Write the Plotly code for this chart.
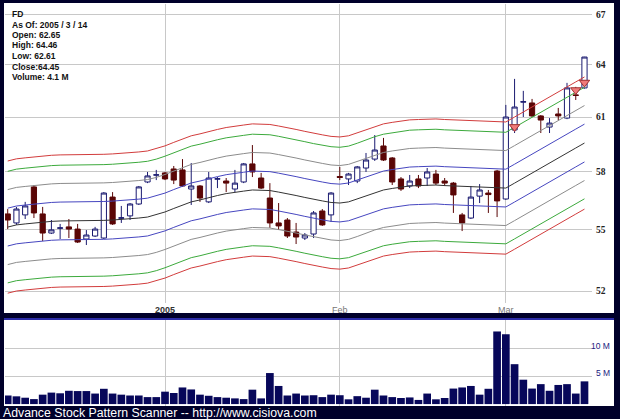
import math
import plotly.graph_objects as go

# ---------------- data ----------------
dates = [
    "2004-12-07", "2004-12-08", "2004-12-09", "2004-12-10", "2004-12-13", "2004-12-14",
    "2004-12-15", "2004-12-16", "2004-12-17", "2004-12-20", "2004-12-21", "2004-12-22",
    "2004-12-23", "2004-12-27", "2004-12-28", "2004-12-29", "2004-12-30", "2004-12-31",
    "2005-01-03", "2005-01-04", "2005-01-05", "2005-01-06", "2005-01-07", "2005-01-10",
    "2005-01-11", "2005-01-12", "2005-01-13", "2005-01-14", "2005-01-18", "2005-01-19",
    "2005-01-20", "2005-01-21", "2005-01-24", "2005-01-25", "2005-01-26", "2005-01-27",
    "2005-01-28", "2005-01-31", "2005-02-01", "2005-02-02", "2005-02-03", "2005-02-04",
    "2005-02-07", "2005-02-08", "2005-02-09", "2005-02-10", "2005-02-11", "2005-02-14",
    "2005-02-15", "2005-02-16", "2005-02-17", "2005-02-18", "2005-02-22", "2005-02-23",
    "2005-02-24", "2005-02-25", "2005-02-28", "2005-03-01", "2005-03-02", "2005-03-03",
    "2005-03-04", "2005-03-07", "2005-03-08", "2005-03-09", "2005-03-10", "2005-03-11",
    "2005-03-14",
]

open_ = [
    55.81, 55.35, 55.76, 57.21, 55.81, 54.84, 55.08, 55.15, 55.04, 54.54, 54.69, 54.59,
    56.68, 55.59, 55.71, 56.32, 57.47, 57.83,
    57.95, 58.16, 58.11, 57.10, 57.26, 56.43, 57.62, 57.52, 57.10, 57.47, 58.43, 57.68,
    56.63, 55.35, 55.50, 54.89, 54.59, 54.79, 55.96, 55.76,
    57.76, 57.63, 57.52, 58.21, 58.69, 59.40, 58.75, 57.63, 57.26, 57.63, 57.68, 57.89,
    57.52, 57.41, 55.76, 55.60, 56.73, 56.89, 58.05,
    56.58, 60.28, 61.84, 61.79, 61.06, 60.44, 61.17, 60.94, 62.25, 62.65,
]
high = [
    56.06, 56.17, 56.43, 57.31, 56.17, 55.50, 55.30, 55.55, 55.30, 54.99, 55.15, 56.94,
    56.94, 56.22, 56.37, 57.26, 58.00, 58.11,
    58.00, 58.32, 58.69, 58.48, 57.31, 58.00, 57.73, 57.68, 58.11, 58.48, 59.45, 57.95,
    57.41, 56.37, 55.60, 55.35, 54.84, 55.96, 56.06, 56.94,
    58.27, 57.95, 58.32, 59.02, 60.00, 59.84, 58.80, 57.73, 57.84, 57.84, 58.21, 58.11,
    57.68, 57.47, 55.86, 57.26, 57.36, 57.05, 58.11,
    61.68, 63.17, 62.48, 62.02, 61.11, 60.94, 61.51, 62.94, 62.71, 64.46,
]
low = [
    55.04, 55.25, 55.55, 55.60, 54.44, 54.79, 54.54, 54.59, 54.34, 54.24, 54.64, 54.54,
    55.25, 55.35, 55.50, 56.27, 57.41, 57.57,
    57.57, 57.36, 57.21, 56.27, 56.43, 56.37, 57.15, 56.94, 56.94, 57.41, 57.73, 57.10,
    55.10, 55.00, 54.59, 54.29, 54.49, 54.59, 55.20, 55.40,
    57.57, 57.31, 57.41, 58.00, 58.59, 58.59, 57.31, 57.00, 57.15, 57.15, 57.26, 57.31,
    57.26, 55.86, 54.94, 55.55, 56.37, 55.86, 55.65,
    56.53, 60.11, 61.00, 61.00, 60.11, 60.11, 60.83, 60.88, 61.96, 62.61,
]
close = [
    55.50, 56.06, 56.22, 55.86, 54.84, 55.00, 55.10, 55.04, 54.39, 54.74, 55.04, 56.89,
    55.30, 55.61, 56.32, 57.21, 57.79, 57.85,
    57.63, 57.57, 57.26, 57.26, 56.63, 57.68, 57.64, 57.41, 57.41, 58.43, 58.00, 57.15,
    55.35, 55.20, 54.69, 54.64, 54.74, 55.86, 55.25, 56.89,
    57.71, 57.89, 58.27, 58.64, 59.18, 58.64, 57.47, 57.10, 57.52, 57.26, 58.00, 57.41,
    57.41, 56.79, 55.35, 56.68, 57.05, 56.81, 56.48,
    61.00, 61.56, 61.86, 61.06, 60.83, 60.66, 61.06, 62.65, 62.22, 64.45,
]
volume_m = [
    1.55, 1.40, 1.15, 0.90, 1.70, 2.07, 1.95, 2.40, 2.35, 2.35, 1.90, 2.76,
    1.90, 1.70, 1.55, 1.55, 1.26, 1.26,
    2.24, 2.00, 3.00, 2.64, 1.70, 1.50, 1.26, 1.15, 1.03, 0.90, 2.60, 1.03,
    5.60, 3.27, 1.55, 1.90, 1.55, 1.60, 1.26, 1.70,
    1.60, 0.86, 1.43, 1.15, 2.60, 1.55, 1.26, 1.10, 1.20, 0.75, 1.90, 0.86,
    1.10, 2.80, 3.00, 3.27, 1.70, 2.76, 13.10,
    12.60, 7.20, 4.40, 2.80, 3.60, 2.40, 3.45, 3.60, 1.90, 4.10,
]
# centre line of the envelope bands
band_mid = [
    55.14, 55.25, 55.30, 55.35, 55.40, 55.43, 55.45, 55.45, 55.45, 55.45, 55.45, 55.48,
    55.50, 55.53, 55.55, 55.60, 55.65, 55.76,
    55.91, 56.09, 56.27, 56.43, 56.53, 56.66, 56.76, 56.86, 56.94, 56.99, 57.05, 57.05,
    57.02, 56.94, 56.86, 56.76, 56.66, 56.56, 56.48, 56.40,
    56.37, 56.43, 56.58, 56.76, 56.92, 57.05, 57.13, 57.21, 57.26, 57.28, 57.31, 57.31,
    57.28, 57.26, 57.23, 57.21, 57.21, 57.18, 57.15,
    57.15, 57.41, 57.68, 57.95, 58.21, 58.48, 58.75, 59.02, 59.29, 59.56,
]
band_pcts = [1.75, 3.5, 5.25, 6.25]
band_colors = ["#4646c0", "#8c8c8c", "#3caa3c", "#d23c3c"]

signal_dates = ["2005-03-02", "2005-03-11", "2005-03-14"]
signal_values = [60.45, 62.53, 62.96]

price_ticks = [52, 55, 58, 61, 64, 67]
vol_ticks = [5, 10]
vol_tick_labels = ["5 M", "10 M"]
month_ticks = ["2005-01-03", "2005-02-01", "2005-03-01"]
month_labels = ["<b><span style='color:#333'>2005</span></b>", "Feb", "Mar"]

header_lines = ["FD", "As Of: 2005 / 3 / 14", "Open: 62.65", "High: 64.46",
                "Low: 62.61", "Close:64.45", "Volume: 4.1 M"]
footer = "Advance Stock Pattern Scanner -- http://www.cisiova.com"

# ---------------- layout helpers ----------------
W, H = 620, 419
BG = "#00002a"
GRID = "#c8c8c8"


def fx(p):
    return p / W


def fy(p):
    return 1 - p / H


fig = go.Figure()

# envelope bands
for pct, col in zip(band_pcts[::-1], band_colors[::-1]):
    up = [m * (1 + pct / 100) for m in band_mid]
    dn = [m / (1 + pct / 100) for m in band_mid]
    for series in (up, dn):
        fig.add_trace(go.Scatter(x=dates, y=series, mode="lines",
                                 line=dict(color=col, width=1),
                                 hoverinfo="skip", showlegend=False,
                                 xaxis="x", yaxis="y"))
fig.add_trace(go.Scatter(x=dates, y=band_mid, mode="lines",
                         line=dict(color="#333333", width=1),
                         hoverinfo="skip", showlegend=False, xaxis="x", yaxis="y"))

# candles
fig.add_trace(go.Candlestick(
    x=dates, open=open_, high=high, low=low, close=close,
    increasing=dict(fillcolor="#ffffff", line=dict(color="#1a1a70", width=1)),
    decreasing=dict(fillcolor="#5a0606", line=dict(color="#5a0606", width=1)),
    whiskerwidth=0, showlegend=False, xaxis="x", yaxis="y"))

# signal markers
fig.add_trace(go.Scatter(
    x=signal_dates, y=signal_values, mode="markers",
    marker=dict(symbol="triangle-down", size=9, color="#f07a7a",
                line=dict(color="#a03030", width=1)),
    showlegend=False, xaxis="x", yaxis="y"))

# volume
fig.add_trace(go.Bar(x=dates, y=volume_m, marker=dict(color="#07075a", line=dict(width=0)),
                     showlegend=False, xaxis="x2", yaxis="y2"))

x_range = [-0.31, len(dates) - 1 + 0.86]
y_lo = 52 * math.exp(-12 / 1090)
y_hi = 52 * math.exp(287 / 1090)

axis_common = dict(type="category", categoryorder="array", categoryarray=dates,
                   range=x_range, domain=[fx(5), fx(592)], showgrid=True,
                   gridcolor=GRID, gridwidth=1, zeroline=False, showline=False,
                   tickvals=month_ticks, ticks="", fixedrange=True)

fig.update_layout(
    width=W, height=H, margin=dict(l=0, r=0, t=0, b=0),
    paper_bgcolor=BG, plot_bgcolor="rgba(0,0,0,0)",
    boxgap=0.15, bargap=0.12, showlegend=False,
    xaxis=dict(**axis_common, ticktext=month_labels, anchor="y",
               tickfont=dict(family="Liberation Sans, Arial", size=9, color="#777777"),
               ticklabelstandoff=0, rangeslider=dict(visible=False)),
    yaxis=dict(type="log", range=[math.log10(y_lo), math.log10(y_hi)],
               domain=[fy(303), fy(4)], side="right", anchor="x",
               tickvals=price_ticks, ticktext=[str(t) for t in price_ticks],
               tickfont=dict(family="Liberation Serif, Times New Roman", size=9.5,
                             color="#222222", weight="bold"),
               ticks="", ticklabelstandoff=3, showgrid=True, gridcolor=GRID,
               zeroline=False, showline=False, fixedrange=True),
    xaxis2=dict(**axis_common, anchor="y2", showticklabels=False),
    yaxis2=dict(range=[-0.345, 15.17], domain=[fy(406), fy(320)], anchor="x2",
                side="right", tickvals=vol_ticks, showticklabels=False, ticks="",
                showgrid=True, gridcolor=GRID, zeroline=False, showline=False,
                fixedrange=True),
)

shapes = [
    dict(type="rect", xref="paper", yref="paper", x0=fx(4), x1=fx(614),
         y0=fy(313), y1=fy(3), fillcolor="#ffffff", line=dict(width=0), layer="below"),
    dict(type="rect", xref="paper", yref="paper", x0=fx(4), x1=fx(614),
         y0=fy(406), y1=fy(318), fillcolor="#ffffff", line=dict(width=0), layer="below"),
    dict(type="line", xref="paper", yref="paper", x0=fx(4), x1=fx(614),
         y0=fy(319), y1=fy(319), line=dict(color="#2c2ca8", width=2), layer="above"),
]
fig.update_layout(shapes=shapes)

annotations = []
for k, line in enumerate(header_lines):
    annotations.append(dict(
        text=line, xref="paper", yref="paper", x=fx(10), y=fy(14 + k * 10.5),
        xanchor="left", yanchor="middle", showarrow=False,
        font=dict(family="Liberation Sans, Arial", size=8.5, color="#111111", weight="bold")))
for v, lab in zip(vol_ticks, vol_tick_labels):
    annotations.append(dict(
        text=lab, xref="paper", yref="y2", x=fx(612), y=v, yshift=3,
        xanchor="right", yanchor="middle", showarrow=False,
        font=dict(family="Liberation Sans, Arial", size=8.5, color="#1a1a80")))
annotations.append(dict(
    text=footer, xref="paper", yref="paper", x=fx(1), y=fy(412.5),
    xanchor="left", yanchor="middle", showarrow=False,
    font=dict(family="Liberation Sans, Arial", size=12.3, color="#ffffff")))
fig.update_layout(annotations=annotations)

fig.write_html(
    "out.html",
    config={"displayModeBar": False, "staticPlot": True},
    post_script="document.body.style.margin='0';document.body.style.padding='0';"
                "document.body.style.background='" + BG + "';",
)
